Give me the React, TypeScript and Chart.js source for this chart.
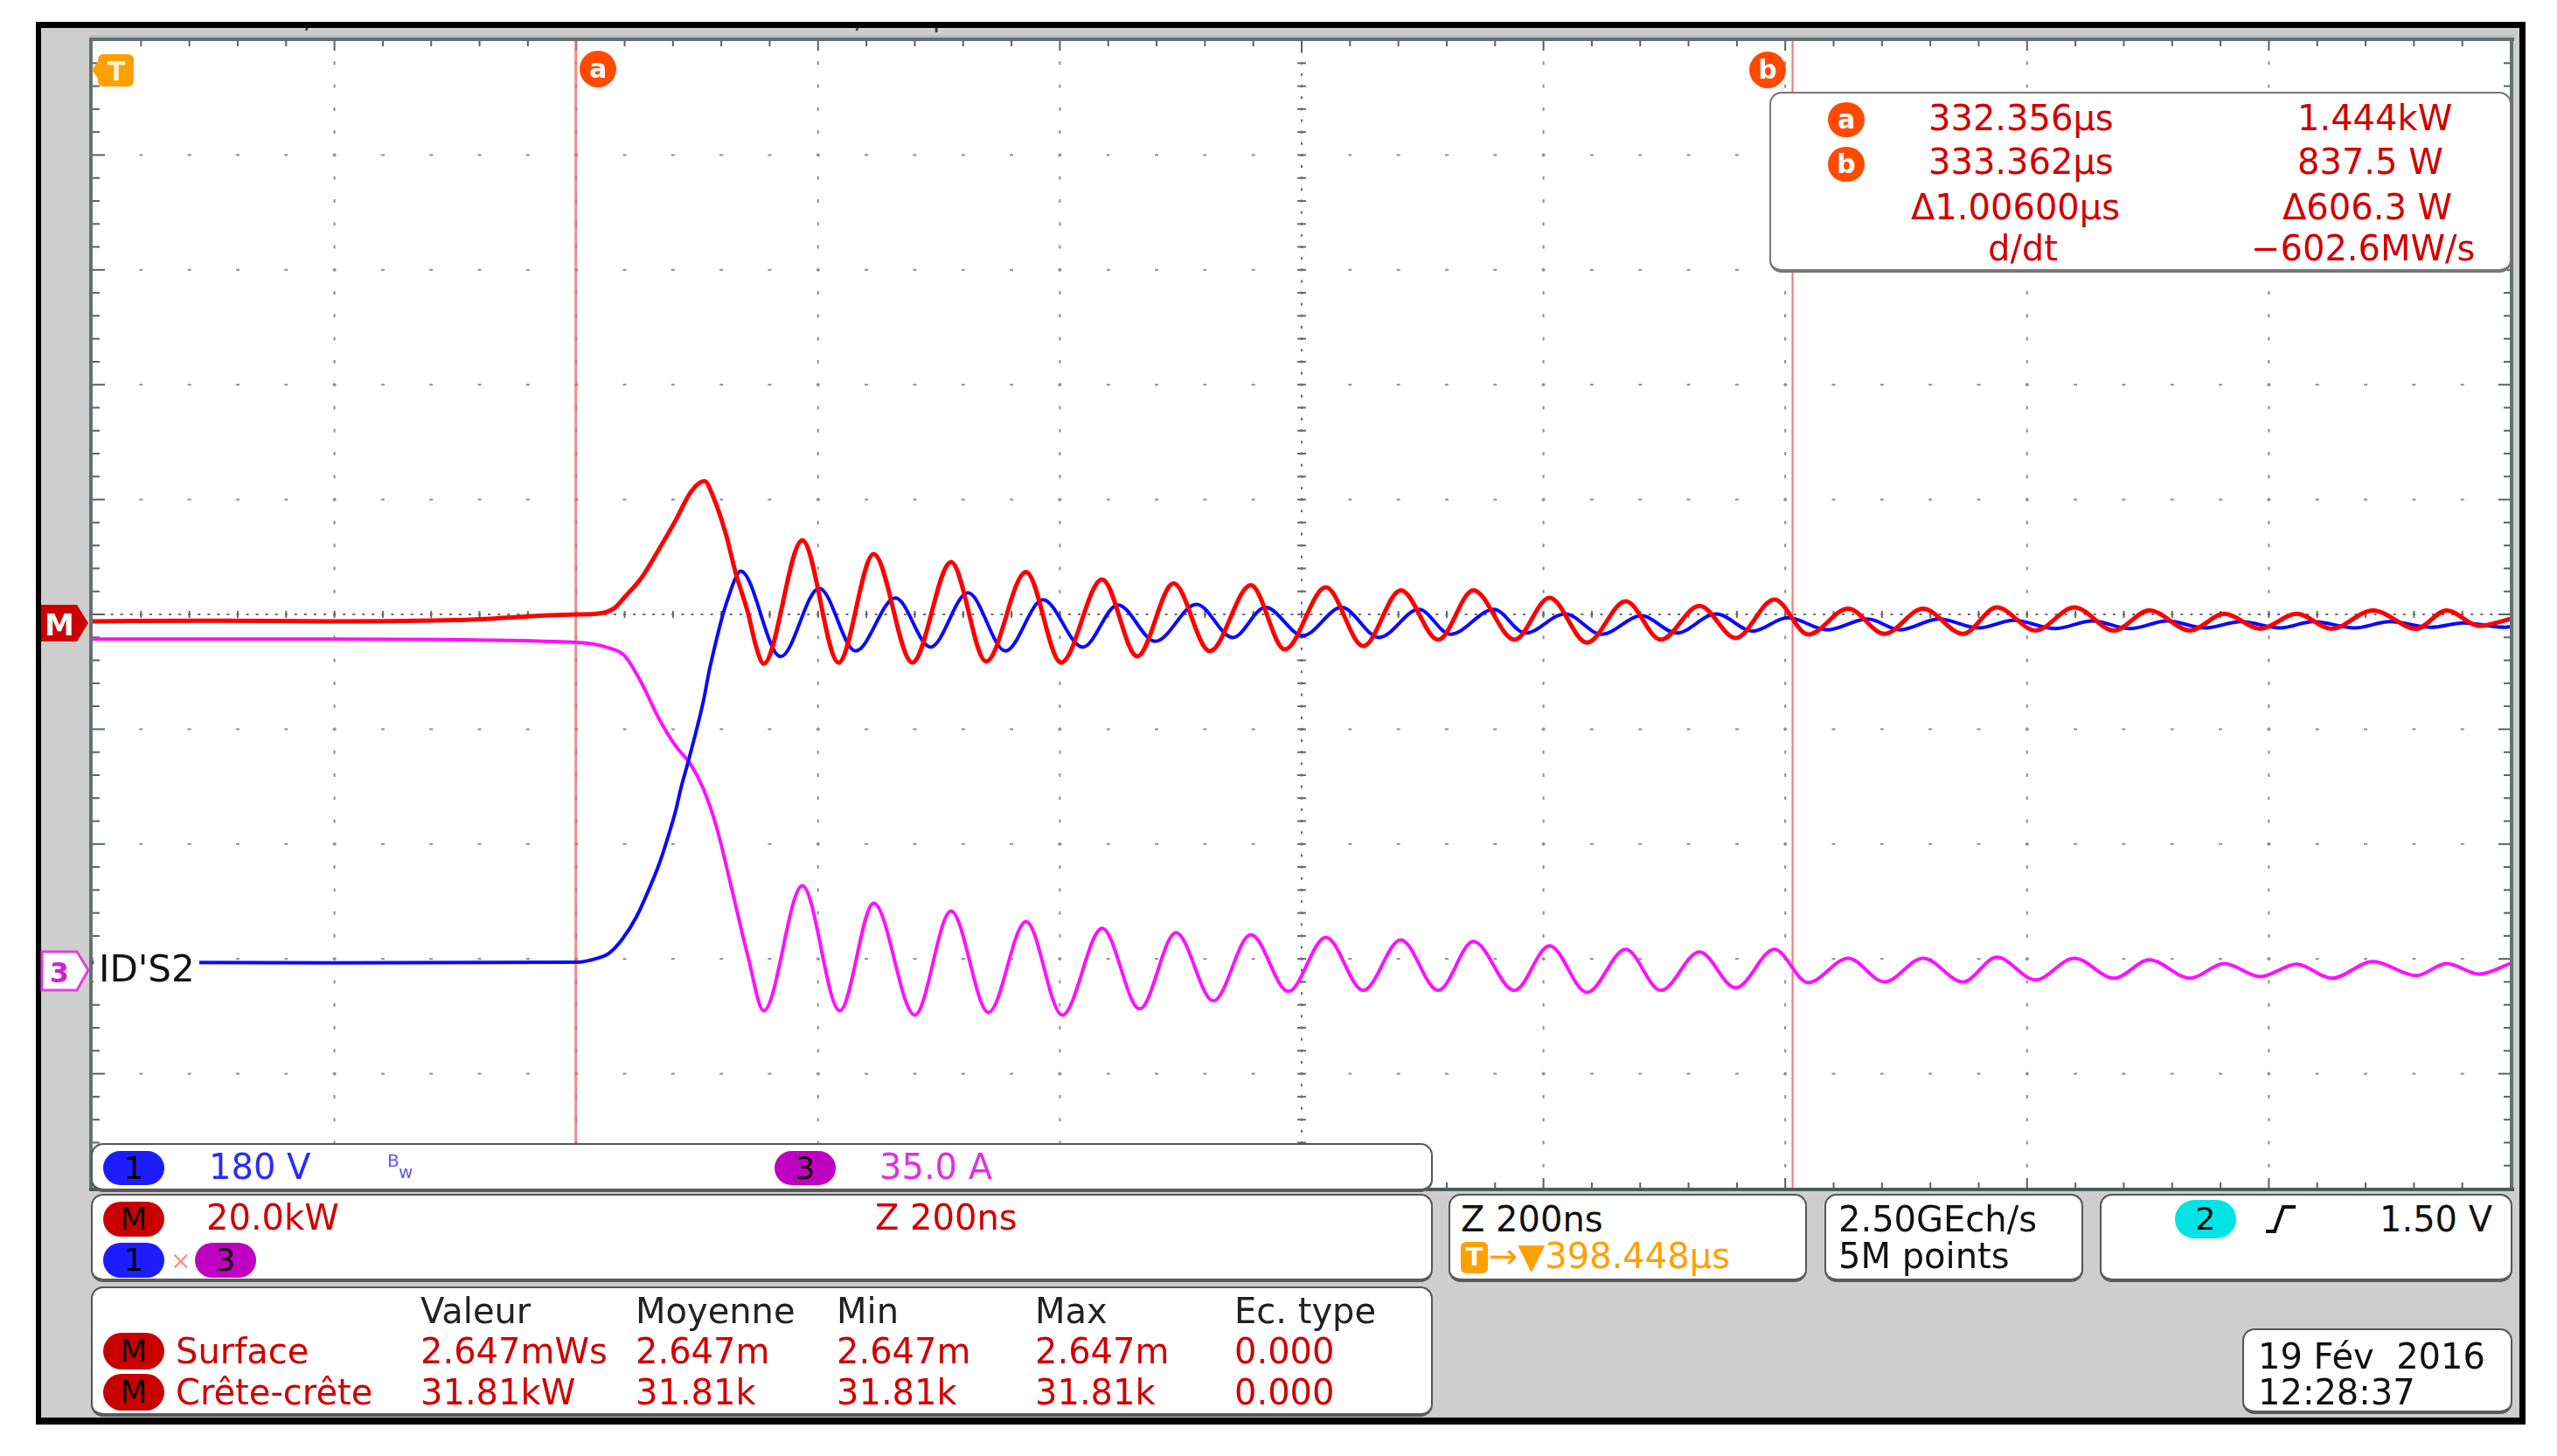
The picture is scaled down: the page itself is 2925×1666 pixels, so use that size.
import React, { useEffect, useRef } from "react";
import { Chart, registerables } from "chart.js";

Chart.register(...registerables);

// ---- Screen / time base (ns measured from left edge of screen = 331.956 µs) ----
const TIME_SPAN_NS = 2000; // 10 div x 200 ns
const CURSOR_A_NS = 400;   // 332.356 µs
const CURSOR_B_NS = 1406;  // 333.362 µs

// ---- Channel settings ----
const CH1_V_PER_DIV = 180;
const CH3_A_PER_DIV = 35;
const MATH_KW_PER_DIV = 20;
const CH1_POS_DIV = -3.04;
const CH3_POS_DIV = -3.1;
const MATH_POS_DIV = -0.07;

// ---- Waveform samples: [time ns, value] ----
const MATH_KW: [number, number][] = [
  [0, 0.2], [100, 0.3], [200, 0.2], [300, 0.4], [400, 1.4], [417, 1.5], [431, 2.4], [440, 4.4],
  [454, 7.8], [468, 12.6], [482, 17.7], [495, 22.8], [506, 24.6], [514, 21.5], [524, 15.2],
  [532, 8.5], [542, 1.7], [549, -4.4], [555, -7.2], [587, 14.3], [617, -7.0], [646, 11.9],
  [678, -7.0], [710, 10.5], [739, -6.8], [772, 8.8], [801, -7.0], [835, 7.5], [864, -5.9],
  [894, 6.8], [924, -5.0], [958, 6.5], [986, -4.7], [1020, 6.1], [1051, -4.1], [1082, 5.6],
  [1113, -3.0], [1142, 5.6], [1176, -3.0], [1205, 4.3], [1236, -3.5], [1268, 3.7], [1297, -3.0],
  [1329, 2.9], [1359, -2.7], [1391, 4.0], [1419, -2.1], [1452, 2.4], [1482, -2.0], [1514, 2.4],
  [1547, -2.0], [1575, 2.6], [1607, -1.4], [1639, 2.6], [1672, -1.4], [1701, 2.1], [1735, -1.4],
  [1763, 1.5], [1793, -1.1], [1823, 1.5], [1852, -1.1], [1886, 2.1], [1922, -1.1], [1947, 2.1],
  [1974, -0.6], [2000, 0.6],
];

const CH1_VOLTS: [number, number][] = [
  [0, 2], [200, 1], [400, 2], [417, 8], [427, 16], [438, 38], [450, 74], [458, 107], [468, 153],
  [475, 193], [482, 238], [487, 278], [493, 319], [499, 363], [505, 410], [510, 459], [516, 508],
  [521, 545], [526, 575], [531, 601], [536, 615], [569, 481], [601, 588], [631, 490], [664, 573],
  [693, 496], [724, 581], [755, 490], [786, 570], [819, 496], [848, 562], [879, 505], [913, 563],
  [943, 511], [970, 558], [1001, 514], [1033, 558], [1064, 511], [1097, 555], [1123, 516],
  [1159, 555], [1185, 518], [1218, 548], [1248, 516], [1281, 545], [1310, 518], [1343, 548],
  [1373, 521], [1402, 542], [1435, 523], [1468, 540], [1495, 523], [1527, 540], [1560, 526],
  [1589, 538], [1623, 525], [1654, 537], [1685, 525], [1716, 537], [1747, 526], [1777, 536],
  [1809, 526], [1837, 536], [1871, 526], [1900, 536], [1934, 527], [1961, 534], [1996, 527],
  [2000, 528],
];

const CH3_AMPS: [number, number][] = [
  [0, 101], [200, 101], [400, 100], [427, 98.3], [440, 95.9], [454, 87.6], [468, 77], [482, 68.5],
  [495, 62.6], [505, 55.4], [516, 43.7], [528, 25.8], [542, 4.3], [555, -12.3], [587, 25.8],
  [618, -12.3], [646, 20.5], [680, -13.6], [710, 18.1], [741, -12.8], [772, 14.9], [802, -13.6],
  [835, 12.8], [866, -11.7], [896, 11.5], [927, -9.3], [958, 10.9], [989, -6.4], [1020, 10.1],
  [1051, -6.1], [1082, 9.3], [1113, -6.1], [1142, 8.8], [1176, -6.1], [1205, 7.5], [1236, -6.7],
  [1268, 6.4], [1297, -6.1], [1329, 5.6], [1359, -5.3], [1391, 6.4], [1419, -3.7], [1452, 3.7],
  [1482, -3.5], [1514, 3.7], [1547, -3.5], [1575, 4.0], [1607, -2.9], [1639, 3.7], [1672, -2.4],
  [1701, 3.2], [1735, -2.4], [1763, 2.1], [1793, -1.9], [1823, 1.9], [1852, -2.4], [1886, 2.7],
  [1922, -1.6], [1947, 2.1], [1974, -1.1], [2000, 2.1],
];

// ---- Readout texts ----
const CURSOR_ROWS = [
  { badge: "a", time: "332.356µs", value: "1.444kW" },
  { badge: "b", time: "333.362µs", value: "837.5 W" },
];
const MEAS_HEADERS = ["Valeur", "Moyenne", "Min", "Max", "Ec. type"];
const MEAS_ROWS = [
  { name: "Surface", values: ["2.647mWs", "2.647m", "2.647m", "2.647m", "0.000"] },
  { name: "Crête-crête", values: ["31.81kW", "31.81k", "31.81k", "31.81k", "0.000"] },
];

const W = 2925;
const H = 1666;
const FONT = '"DejaVu Sans", "Liberation Sans", Arial, sans-serif';

const range = (perDiv: number, posDiv: number) => ({
  min: (-5 - posDiv) * perDiv,
  max: (5 - posDiv) * perDiv,
});

const scopePlugin = {
  id: "scope",
  beforeDraw(chart: any) {
    const ctx = chart.ctx;
    const a = chart.chartArea;
    ctx.save();
    ctx.fillStyle = "#ffffff";
    ctx.fillRect(0, 0, W, H);
    ctx.fillStyle = "#000000";
    ctx.fillRect(41, 25, 2848, 1605);
    ctx.fillStyle = "#cecece";
    ctx.fillRect(47, 32, 2835, 1590);
    ctx.fillStyle = "#ffffff";
    ctx.fillRect(a.left, a.top, a.right - a.left, a.bottom - a.top);
    ctx.restore();
  },
  beforeDatasetsDraw(chart: any) {
    const ctx = chart.ctx;
    const xs = chart.scales.x;
    const ys = chart.scales.yDiv;
    const a = chart.chartArea;
    ctx.save();
    // dotted major lines
    ctx.fillStyle = "#8e8e8e";
    for (let i = 1; i < 10; i++) {
      if (i === 5) continue;
      const px = xs.getPixelForValue(i * 200);
      for (let j = -24; j <= 24; j++) {
        const py = ys.getPixelForValue(j * 0.2);
        ctx.fillRect(px - 1, py - 2, 2, 4);
      }
    }
    for (let j = -4; j <= 4; j++) {
      if (j === 0) continue;
      const py = ys.getPixelForValue(j);
      for (let i = 1; i < 50; i++) {
        const px = xs.getPixelForValue(i * 40);
        ctx.fillRect(px - 2, py - 1, 4, 2);
      }
    }
    // centre cross
    ctx.fillStyle = "#6a6a6a";
    const cx = xs.getPixelForValue(1000);
    const cy = ys.getPixelForValue(0);
    for (let k = 1; k < 250; k++) {
      const px = xs.getPixelForValue(k * 8);
      ctx.fillRect(px - 1.5, cy - 1, 3, 2);
    }
    for (let i = 1; i < 50; i++) {
      const px = xs.getPixelForValue(i * 40);
      ctx.fillRect(px - 1, cy - 4, 2, 8);
    }
    for (let k = -49; k <= 49; k++) {
      const py = ys.getPixelForValue(k * 0.1);
      ctx.fillRect(cx - 1, py - 1.5, 2, 3);
    }
    for (let j = -24; j <= 24; j++) {
      const py = ys.getPixelForValue(j * 0.2);
      ctx.fillRect(cx - 5, py - 1, 10, 2);
    }
    // border ticks
    ctx.fillStyle = "#586262";
    for (let i = 1; i < 50; i++) {
      const px = xs.getPixelForValue(i * 40);
      const len = i % 5 === 0 ? 12 : 7;
      ctx.fillRect(px - 1, a.top, 2, len);
      ctx.fillRect(px - 1, a.bottom - len, 2, len);
    }
    for (let j = -24; j <= 24; j++) {
      const py = ys.getPixelForValue(j * 0.2);
      const len = j % 5 === 0 ? 14 : 8;
      ctx.fillRect(a.left, py - 1, len, 2);
      ctx.fillRect(a.right - len, py - 1, len, 2);
    }
    // cursors
    ctx.fillStyle = "rgba(238, 110, 110, 0.8)";
    const ca = xs.getPixelForValue(CURSOR_A_NS);
    ctx.fillRect(ca - 2, a.top, 3, a.bottom - a.top);
    ctx.fillStyle = "rgba(240, 90, 90, 0.85)";
    const cb = xs.getPixelForValue(CURSOR_B_NS);
    ctx.fillRect(cb - 1, a.top, 2, a.bottom - a.top);
    ctx.restore();
  },
  afterDatasetsDraw(chart: any) {
    const ctx = chart.ctx;
    const a = chart.chartArea;
    ctx.save();
    ctx.fillStyle = "#bcbcbc";
    ctx.fillRect(a.left - 4, a.top - 6, a.right - a.left + 8, 3);
    ctx.fillStyle = "#657070";
    ctx.fillRect(a.left - 4, a.top - 3, a.right - a.left + 8, 4);
    ctx.fillRect(a.left - 4, a.top - 3, 4, a.bottom - a.top + 6);
    ctx.fillRect(a.right - 1, a.top - 3, 4, a.bottom - a.top + 6);
    ctx.fillStyle = "#505a5a";
    ctx.fillRect(a.left - 4, a.bottom - 1, a.right - a.left + 8, 4);
    ctx.restore();
  },
};

function Txt(props: { x: number; cap: number; color?: string; size?: number; children: any; style?: any }) {
  const size = props.size ?? 40;
  return (
    <div
      style={{
        position: "absolute",
        left: props.x,
        top: props.cap - Math.round(0.117 * size),
        fontFamily: FONT,
        fontSize: size,
        lineHeight: `${size}px`,
        color: props.color ?? "#111",
        whiteSpace: "pre",
        ...(props.style || {}),
      }}
    >
      {props.children}
    </div>
  );
}

function Badge(props: { x: number; y: number; w: number; h: number; bg: string; color?: string; size?: number; bold?: boolean; radius?: number; children: any }) {
  return (
    <div
      style={{
        position: "absolute",
        left: props.x,
        top: props.y,
        width: props.w,
        height: props.h,
        borderRadius: props.radius ?? props.h / 2,
        background: props.bg,
        color: props.color ?? "#000",
        fontFamily: FONT,
        fontSize: props.size ?? 36,
        fontWeight: props.bold ? "bold" : "normal",
        display: "flex",
        alignItems: "center",
        justifyContent: "center",
        lineHeight: 1,
      }}
    >
      {props.children}
    </div>
  );
}

function Box(props: { l: number; t: number; r: number; b: number; border?: string }) {
  return (
    <div
      style={{
        position: "absolute",
        left: props.l,
        top: props.t,
        width: props.r - props.l,
        height: props.b - props.t,
        boxSizing: "border-box",
        background: "#ffffff",
        border: `2px solid ${props.border ?? "#555"}`,
        borderBottom: `4px solid ${props.border ?? "#5a5a5a"}`,
        borderRadius: 14,
      }}
    />
  );
}

const RED_TXT = "#d20000";
const BLUE = "#1c1cff";
const MAG = "#c000c0";
const DARKRED = "#c80000";
const ORANGE = "#ffa000";

export default function App() {
  const canvasRef = useRef<HTMLCanvasElement | null>(null);

  useEffect(() => {
    const canvas = canvasRef.current;
    if (!canvas) return;
    const chart = new Chart(canvas, {
      type: "line",
      data: {
        datasets: [
          {
            label: "M",
            data: MATH_KW.map(([x, y]) => ({ x, y })),
            yAxisID: "yP",
            borderColor: "#ff0000",
            borderWidth: 5,
            pointRadius: 0,
            cubicInterpolationMode: "monotone",
            order: 0,
          },
          {
            label: "1",
            data: CH1_VOLTS.map(([x, y]) => ({ x, y })),
            yAxisID: "yV",
            borderColor: "#0a0aff",
            borderWidth: 4,
            pointRadius: 0,
            cubicInterpolationMode: "monotone",
            order: 1,
          },
          {
            label: "3",
            data: CH3_AMPS.map(([x, y]) => ({ x, y })),
            yAxisID: "yA",
            borderColor: "#ff10ff",
            borderWidth: 4,
            pointRadius: 0,
            cubicInterpolationMode: "monotone",
            order: 2,
          },
        ],
      } as any,
      options: {
        animation: false,
        responsive: false,
        maintainAspectRatio: false,
        devicePixelRatio: 1,
        events: [],
        layout: { padding: { left: 106, top: 46, right: W - 2872, bottom: H - 1360 } },
        plugins: { legend: { display: false }, tooltip: { enabled: false } },
        scales: {
          x: { type: "linear", min: 0, max: TIME_SPAN_NS, display: false },
          yDiv: { type: "linear", axis: "y", min: -5, max: 5, display: false },
          yV: { type: "linear", axis: "y", ...range(CH1_V_PER_DIV, CH1_POS_DIV), display: false },
          yA: { type: "linear", axis: "y", ...range(CH3_A_PER_DIV, CH3_POS_DIV), display: false },
          yP: { type: "linear", axis: "y", ...range(MATH_KW_PER_DIV, MATH_POS_DIV), display: false },
        },
      } as any,
      plugins: [scopePlugin as any],
    });
    return () => chart.destroy();
  }, []);

  const headerX = [481, 727, 957, 1184, 1412];

  return (
    <div style={{ position: "absolute", left: 0, top: 0, width: W, height: H, overflow: "hidden", background: "#fff" }}>
      <canvas ref={canvasRef} width={W} height={H} style={{ position: "absolute", left: 0, top: 0, width: W, height: H, display: "block" }} />

      {/* cut-off top status line */}
      <div style={{ position: "absolute", left: 108, top: 32, width: 1150, height: 5, overflow: "hidden" }}>
        <div style={{ position: "absolute", left: 0, top: -25, fontFamily: FONT, fontSize: 30, lineHeight: "30px", color: "#333", whiteSpace: "pre" }}>
          {"Rech. de 200ns / div"}
        </div>
        <div style={{ position: "absolute", left: 570, top: -25, fontFamily: FONT, fontSize: 30, lineHeight: "30px", color: "#333", whiteSpace: "pre" }}>
          {"Z échant. au 200ns / 1ssep"}
        </div>
      </div>

      {/* trigger & cursor markers */}
      <svg style={{ position: "absolute", left: 103, top: 60 }} width={54} height={42}>
        <rect x={9} y={2} width={41} height={37} rx={6} fill={ORANGE} />
        <polygon points="10,9 2,20 10,31" fill={ORANGE} />
        <text x={30} y={32} fontSize={30} fontWeight="bold" fill="#fff3d0" textAnchor="middle" fontFamily={FONT}>T</text>
      </svg>
      <Badge x={663} y={58} w={42} h={42} bg="#ff4a00" color="#fff" size={30} bold>a</Badge>
      <Badge x={2001} y={59} w={42} h={42} bg="#ff4a00" color="#fff" size={30} bold>b</Badge>

      {/* left reference markers */}
      <svg style={{ position: "absolute", left: 45, top: 690 }} width={60} height={48}>
        <polygon points="2,2 43,2 56,23 43,44 2,44" fill="#cc0000" />
        <text x={23} y={37} fontSize={34} fontWeight="bold" fill="#ffffff" textAnchor="middle" fontFamily={FONT}>M</text>
      </svg>
      <svg style={{ position: "absolute", left: 45, top: 1086 }} width={60} height={52}>
        <polygon points="3,3 43,3 56,24 43,47 3,47" fill="#ffffff" stroke="#e040e0" strokeWidth={3} />
        <text x={23} y={38} fontSize={32} fontWeight="bold" fill="#d020d0" textAnchor="middle" fontFamily={FONT}>3</text>
      </svg>
      <div style={{ position: "absolute", left: 107, top: 1086, width: 121, height: 42, background: "#fff" }} />
      <Txt x={113} cap={1093} size={42} color="#111">ID'S2</Txt>

      {/* cursor readout */}
      <Box l={2024} t={105} r={2873} b={312} border="#777" />
      {CURSOR_ROWS.map((r, i) => (
        <React.Fragment key={r.badge}>
          <Badge x={2091} y={117 + i * 51} w={42} h={40} bg="#ff4a00" color="#fff" size={30} bold>{r.badge}</Badge>
          <Txt x={2206} cap={120 + i * 50} color={RED_TXT}>{r.time}</Txt>
          <Txt x={2628} cap={120 + i * 50} color={RED_TXT}>{r.value}</Txt>
        </React.Fragment>
      ))}
      <Txt x={2186} cap={222} color={RED_TXT}>Δ1.00600µs</Txt>
      <Txt x={2611} cap={222} color={RED_TXT}>Δ606.3 W</Txt>
      <Txt x={2274} cap={269} color={RED_TXT}>d/dt</Txt>
      <Txt x={2575} cap={269} color={RED_TXT}>−602.6MW/s</Txt>

      {/* channel box */}
      <Box l={104} t={1308} r={1639} b={1364} />
      <Badge x={118} y={1317} w={70} h={39} bg={BLUE}>1</Badge>
      <Txt x={239} cap={1320} color="#2a2aff">180 V</Txt>
      <Txt x={443} cap={1320} size={20} color="#5a5aff">B</Txt>
      <Txt x={456} cap={1333} size={20} color="#5a5aff">w</Txt>
      <Badge x={886} y={1317} w={70} h={39} bg={MAG}>3</Badge>
      <Txt x={1006} cap={1320} color="#e030e0">35.0 A</Txt>

      {/* math box */}
      <Box l={104} t={1366} r={1639} b={1467} />
      <Badge x={118} y={1375} w={70} h={40} bg={DARKRED}>M</Badge>
      <Txt x={236} cap={1378} color={RED_TXT}>20.0kW</Txt>
      <Badge x={118} y={1422} w={70} h={40} bg={BLUE}>1</Badge>
      <Txt x={195} cap={1432} size={28} color="#ff8c8c">×</Txt>
      <Badge x={223} y={1422} w={70} h={40} bg={MAG}>3</Badge>
      <Txt x={1001} cap={1378} color={RED_TXT}>Z 200ns</Txt>

      {/* measurement box */}
      <Box l={104} t={1472} r={1639} b={1621} />
      {MEAS_HEADERS.map((h, i) => (
        <Txt key={h} x={headerX[i]} cap={1485} color="#222">{h}</Txt>
      ))}
      {MEAS_ROWS.map((r, k) => (
        <React.Fragment key={r.name}>
          <Badge x={118} y={1525 + k * 47} w={70} h={42} bg={DARKRED}>M</Badge>
          <Txt x={201} cap={1531 + k * 47} color={RED_TXT}>{r.name}</Txt>
          {r.values.map((v, i) => (
            <Txt key={i} x={headerX[i]} cap={1531 + k * 47} color={RED_TXT}>{v}</Txt>
          ))}
        </React.Fragment>
      ))}

      {/* horizontal box */}
      <Box l={1657} t={1366} r={2067} b={1467} />
      <Txt x={1671} cap={1380}>Z 200ns</Txt>
      <Badge x={1671} y={1421} w={31} h={36} bg={ORANGE} color="#fff" size={28} bold radius={6}>T</Badge>
      <Txt x={1703} cap={1422} color={ORANGE}>→▼398.448µs</Txt>

      {/* acquisition box */}
      <Box l={2087} t={1366} r={2383} b={1467} />
      <Txt x={2103} cap={1380}>2.50GEch/s</Txt>
      <Txt x={2103} cap={1422}>5M points</Txt>

      {/* trigger box */}
      <Box l={2402} t={1366} r={2874} b={1467} />
      <Badge x={2488} y={1373} w={70} h={44} bg="#00e4e4">2</Badge>
      <svg style={{ position: "absolute", left: 2590, top: 1378 }} width={40} height={34}>
        <path d="M2,31 L12,31 L22,3 L36,3" stroke="#111" strokeWidth={4} fill="none" />
      </svg>
      <Txt x={2722} cap={1380}>1.50 V</Txt>

      {/* date box */}
      <Box l={2565} t={1520} r={2874} b={1618} />
      <Txt x={2583} cap={1537}>{"19 Fév  2016"}</Txt>
      <Txt x={2583} cap={1578}>12:28:37</Txt>
    </div>
  );
}
